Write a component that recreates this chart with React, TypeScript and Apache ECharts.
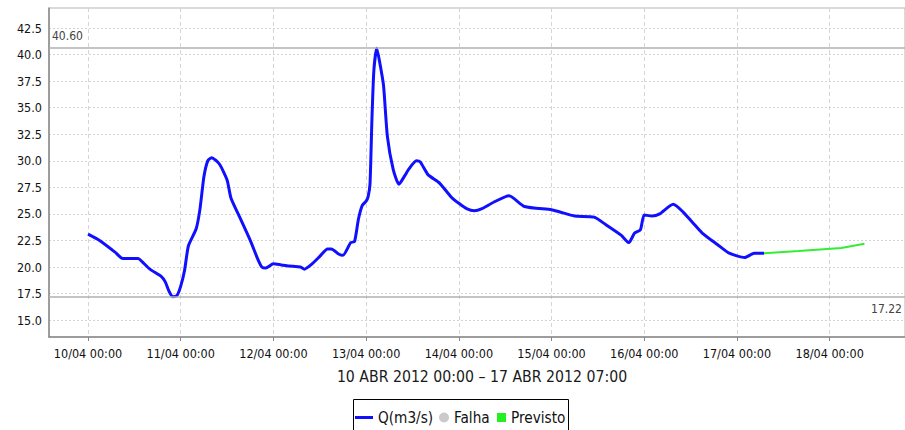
import React, { useEffect, useRef } from "react";
import * as echarts from "echarts";

const qTimes = [
  "2012-04-10 00:00", "2012-04-10 03:00", "2012-04-10 07:00", "2012-04-10 09:00", "2012-04-10 13:00",
  "2012-04-10 14:00", "2012-04-10 16:00", "2012-04-10 19:00", "2012-04-10 20:00", "2012-04-10 21:00",
  "2012-04-10 22:00", "2012-04-10 23:00", "2012-04-11 00:00", "2012-04-11 01:00", "2012-04-11 02:00",
  "2012-04-11 04:00", "2012-04-11 05:00", "2012-04-11 06:00", "2012-04-11 07:00", "2012-04-11 08:00",
  "2012-04-11 10:00", "2012-04-11 12:00", "2012-04-11 13:00", "2012-04-11 15:00", "2012-04-11 18:00",
  "2012-04-11 20:00", "2012-04-11 21:00", "2012-04-11 22:00", "2012-04-12 00:00", "2012-04-12 02:00",
  "2012-04-12 04:00", "2012-04-12 07:00", "2012-04-12 08:00", "2012-04-12 10:00", "2012-04-12 12:00",
  "2012-04-12 14:00", "2012-04-12 15:00", "2012-04-12 17:00", "2012-04-12 18:00", "2012-04-12 20:00",
  "2012-04-12 21:00", "2012-04-12 22:00", "2012-04-12 23:00", "2012-04-13 00:00", "2012-04-13 00:30",
  "2012-04-13 01:00", "2012-04-13 01:30", "2012-04-13 02:00", "2012-04-13 02:45", "2012-04-13 03:30",
  "2012-04-13 04:30", "2012-04-13 05:30", "2012-04-13 07:00", "2012-04-13 08:30", "2012-04-13 10:00",
  "2012-04-13 11:00", "2012-04-13 13:00", "2012-04-13 14:00", "2012-04-13 16:00", "2012-04-13 19:00",
  "2012-04-13 22:00", "2012-04-14 00:00", "2012-04-14 02:00", "2012-04-14 04:00", "2012-04-14 06:00",
  "2012-04-14 09:00", "2012-04-14 13:00", "2012-04-14 17:00", "2012-04-15 00:00", "2012-04-15 02:00",
  "2012-04-15 06:00", "2012-04-15 11:00", "2012-04-15 14:00", "2012-04-15 18:00", "2012-04-15 20:00",
  "2012-04-15 21:30", "2012-04-15 23:00", "2012-04-16 00:00", "2012-04-16 02:00", "2012-04-16 04:00",
  "2012-04-16 07:30", "2012-04-16 10:00", "2012-04-16 12:30", "2012-04-16 15:00", "2012-04-16 19:00",
  "2012-04-16 22:00", "2012-04-17 02:00", "2012-04-17 04:30", "2012-04-17 07:00",
];
const qValues = [
  23.1, 22.5, 21.4, 20.8, 20.8,
  20.5, 19.8, 19.1, 18.6, 17.7,
  17.2, 17.3, 18.2, 19.7, 22.0,
  23.6, 25.5, 28.5, 30.0, 30.3,
  29.7, 28.2, 26.5, 24.9, 22.5,
  20.7, 20.0, 19.9, 20.3, 20.2,
  20.1, 20.0, 19.8, 20.3, 21.0,
  21.7, 21.7, 21.2, 21.1, 22.3,
  22.4, 24.5, 25.8, 26.2, 26.6,
  27.8, 33.9, 38.5, 40.6, 39.3,
  37.1, 32.3, 29.2, 27.8, 28.6,
  29.2, 30.0, 29.9, 28.7, 27.9,
  26.6, 26.0, 25.5, 25.3, 25.5,
  26.1, 26.7, 25.7, 25.4, 25.2,
  24.8, 24.7, 24.0, 23.0, 22.3,
  23.2, 23.5, 24.9, 24.8, 25.0,
  25.9, 25.2, 24.2, 23.2, 22.1,
  21.3, 20.9, 21.3, 21.3,
];

const prevTimes = ["2012-04-17 07:00", "2012-04-17 16:00", "2012-04-18 03:00", "2012-04-18 09:00"];
const prevValues = [21.3, 21.5, 21.8, 22.2];

const yTicks = [15.0, 17.5, 20.0, 22.5, 25.0, 27.5, 30.0, 32.5, 35.0, 37.5, 40.0, 42.5];
const xTicks = [
  "2012-04-10 00:00", "2012-04-11 00:00", "2012-04-12 00:00", "2012-04-13 00:00", "2012-04-14 00:00",
  "2012-04-15 00:00", "2012-04-16 00:00", "2012-04-17 00:00", "2012-04-18 00:00",
];
const markerValues = [40.6, 17.22];
const xRange = ["2012-04-09 13:54", "2012-04-18 19:30"];
const yRange = [13.41, 44.39];
const subtitle = "10 ABR 2012 00:00 – 17 ABR 2012 07:00";
const seriesNames = ["Q(m3/s)", "Falha", "Previsto"];

const parseT = (s: string) => {
  const [d, tm] = s.split(" ");
  const [y, mo, da] = d.split("-").map(Number);
  const [hh, mm] = tm.split(":").map(Number);
  return Date.UTC(y, mo - 1, da, hh, mm);
};
const pad = (n: number) => (n < 10 ? "0" + n : "" + n);

const FONT = "'DejaVu Sans Condensed', 'DejaVu Sans', sans-serif";

export default function App() {
  const ref = useRef<HTMLDivElement>(null);
  useEffect(() => {
    if (!ref.current) return;
    const chart = echarts.init(ref.current, null, { renderer: "svg" });
    const qData = qTimes.map((t, i) => [parseT(t), qValues[i]]);
    const pData = prevTimes.map((t, i) => [parseT(t), prevValues[i]]);
    const xTickVals = xTicks.map(parseT);
    const legendText = { fontFamily: FONT, fontSize: 15.2, color: "#111" };
    chart.setOption({
      animation: false,
      backgroundColor: "#ffffff",
      textStyle: { fontFamily: FONT },
      title: {
        text: subtitle,
        left: 477,
        top: 363,
        textAlign: "center",
        textStyle: { fontFamily: FONT, fontSize: 15.7, fontWeight: "normal", color: "#1a1a1a" },
      },
      grid: {
        left: 49,
        right: 0,
        top: 8,
        bottom: 93,
        show: true,
        borderColor: "#b5b5b5",
        borderWidth: 1,
        backgroundColor: "#ffffff",
      },
      legend: [
        {
          data: [{ name: seriesNames[0], icon: "path://M0,0H18V3H0Z" }],
          left: 355, top: 410, padding: 0, itemWidth: 18, itemHeight: 3,
          textStyle: legendText,
          selectedMode: false,
        },
        {
          data: [{ name: seriesNames[1], icon: "circle" }],
          left: 439, top: 410, padding: 0, itemWidth: 10, itemHeight: 10,
          textStyle: legendText,
          selectedMode: false,
        },
        {
          data: [{ name: seriesNames[2], icon: "rect" }],
          left: 497, top: 410, padding: 0, itemWidth: 9, itemHeight: 9,
          textStyle: legendText,
          selectedMode: false,
        },
      ],
      graphic: [
        {
          type: "rect",
          z: -1,
          silent: true,
          shape: { x: 353.5, y: 399.5, width: 215, height: 40 },
          style: { fill: "#ffffff", stroke: "#000000", lineWidth: 1 },
        },
      ],
      xAxis: {
        type: "value",
        min: parseT(xRange[0]),
        max: parseT(xRange[1]),
        axisLine: { show: true, lineStyle: { color: "#888", width: 1.5 } },
        axisTick: {
          show: true,
          length: 4,
          customValues: xTickVals,
          lineStyle: { color: "#888" },
        },
        axisLabel: {
          customValues: xTickVals,
          margin: 9.5,
          fontFamily: FONT,
          fontSize: 12.5,
          color: "#111",
          formatter: (v: number) => {
            const d = new Date(v);
            return `${pad(d.getUTCDate())}/${pad(d.getUTCMonth() + 1)} ${pad(d.getUTCHours())}:${pad(d.getUTCMinutes())}`;
          },
        },
        splitLine: { show: true, lineStyle: { color: "#d4d4d4", type: [4, 3], width: 1 } },
      },
      yAxis: {
        type: "value",
        min: yRange[0],
        max: yRange[1],
        axisLine: { show: true, lineStyle: { color: "#888", width: 1.5 } },
        axisTick: { show: false, customValues: yTicks },
        axisLabel: {
          customValues: yTicks,
          margin: 7,
          fontFamily: FONT,
          fontSize: 12.5,
          color: "#111",
          formatter: (v: number) => v.toFixed(1),
        },
        splitLine: { show: true, lineStyle: { color: "#d4d4d4", type: [2, 2], width: 1 } },
      },
      series: [
        {
          name: seriesNames[0],
          type: "line",
          data: qData,
          showSymbol: false,
          symbol: "none",
          smooth: 0.2,
          color: "#1010ff",
          lineStyle: { color: "#1010ff", width: 3 },
          z: 3,
          markLine: {
            silent: true,
            symbol: ["none", "none"],
            lineStyle: { color: "#b0b0b0", width: 1.5, type: "solid" },
            label: {
              fontFamily: FONT,
              fontSize: 12,
              color: "#444",
              formatter: (p: any) => Number(p.value).toFixed(2),
            },
            data: [
              { yAxis: markerValues[0], label: { position: "insideStartTop", distance: [3, 6] } },
              { yAxis: markerValues[1], label: { position: "insideEndBottom", distance: [3, 6] } },
            ],
          },
        },
        {
          name: seriesNames[1],
          type: "scatter",
          data: [],
          color: "#bdbdbd",
          itemStyle: { color: "#bdbdbd" },
        },
        {
          name: seriesNames[2],
          type: "line",
          data: pData,
          showSymbol: false,
          symbol: "none",
          color: "#22f022",
          lineStyle: { color: "#33ee33", width: 2 },
          z: 2,
        },
      ],
    });
    return () => chart.dispose();
  }, []);
  return (
    <div
      ref={ref}
      style={{ position: "fixed", left: 0, top: 0, width: 905, height: 430 }}
    />
  );
}
